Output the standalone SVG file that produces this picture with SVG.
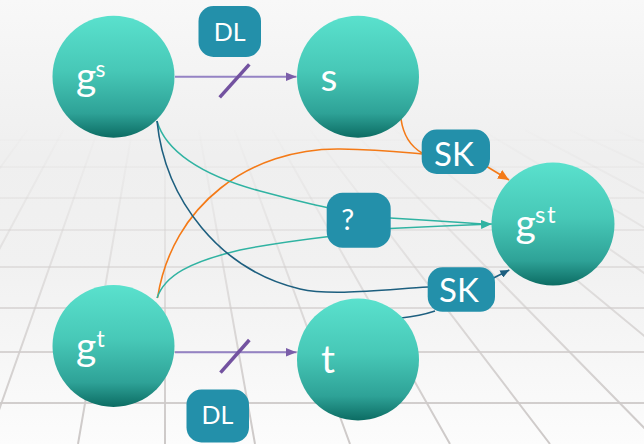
<svg xmlns="http://www.w3.org/2000/svg" width="644" height="444" viewBox="0 0 644 444">
<defs>
<linearGradient id="bg" x1="0" y1="0" x2="0" y2="444" gradientUnits="userSpaceOnUse">
<stop offset="0" stop-color="#F8F8F8"/>
<stop offset="0.35" stop-color="#EFEFEF"/>
<stop offset="0.6" stop-color="#F1F1F1"/>
<stop offset="1" stop-color="#FCFCFC"/>
</linearGradient>
<linearGradient id="gridc" x1="0" y1="120" x2="0" y2="444" gradientUnits="userSpaceOnUse">
<stop offset="0" stop-color="#D0CCCB" stop-opacity="0"/>
<stop offset="0.3" stop-color="#D0CCCB" stop-opacity="0.3"/>
<stop offset="0.7" stop-color="#D0CCCB" stop-opacity="0.8"/>
<stop offset="1" stop-color="#CDC9C8" stop-opacity="1"/>
</linearGradient>
<linearGradient id="nodefill" x1="0" y1="0" x2="0" y2="1">
<stop offset="0" stop-color="#5AE1CD"/>
<stop offset="0.45" stop-color="#47C8B7"/>
<stop offset="0.8" stop-color="#2EA297"/>
<stop offset="1" stop-color="#0C6C63"/>
</linearGradient>
<marker id="aPurple" markerUnits="userSpaceOnUse" markerWidth="11" markerHeight="9" refX="11" refY="4.5" orient="auto"><path d="M0,0 L11,4.5 L0,9 Z" fill="#7B5EA9"/></marker>
<marker id="aOrange" markerUnits="userSpaceOnUse" markerWidth="11" markerHeight="10" refX="11" refY="5" orient="auto"><path d="M0,0 L11,5 L0,10 Z" fill="#F47A17"/></marker>
<marker id="aTeal" markerUnits="userSpaceOnUse" markerWidth="11" markerHeight="9" refX="11" refY="4.5" orient="auto"><path d="M0,0 L11,4.5 L0,9 Z" fill="#30B3A2"/></marker>
<marker id="aNavy" markerUnits="userSpaceOnUse" markerWidth="9" markerHeight="8" refX="9" refY="4" orient="auto"><path d="M0,0 L9,4 L0,8 Z" fill="#1D5F7F"/></marker>
<style>
.grid{stroke:url(#gridc);stroke-width:2;fill:none}
.node{fill:url(#nodefill)}
.nt{font-family:Lato,"Open Sans","Liberation Sans",sans-serif;fill:#FFFFFF}
.box{fill:#2390AA}
.bt{font-family:Lato,"Open Sans","Liberation Sans",sans-serif;fill:#FFFFFF;text-anchor:middle}
.purple{stroke:#9583C4;stroke-width:2;fill:none}
.slash{stroke:#7352A0;stroke-width:3.5;fill:none}
.orange{stroke:#F47A17;stroke-width:1.6;fill:none}
.teal{stroke:#30B3A2;stroke-width:1.5;fill:none}
.navy{stroke:#1D5F7F;stroke-width:1.6;fill:none}
</style>
</defs>
<rect x="0" y="0" width="644" height="444" fill="url(#bg)"/>
<g id="floor-grid">
<path class="grid" d="M0,140 H644 M0,167 H644 M0,198 H644 M0,230 H644 M0,267 H644 M0,308 H644 M0,352 H644 M0,403 H644"/>
<path class="grid" d="M27.4,130 L-200,444 M63.2,130 L-105,444 M97.9,130 L-13,444 M132.2,130 L78,444 M165,130 L165,444 M198.9,130 L255,444 M234.7,130 L350,444 M272.4,130 L450,444 M310.1,130 L550,444 M351.6,130 L660,444 M395,130 L775,444 M438.3,130 L890,444 M481.7,130 L1005,444 M525,130 L1120,444 M570,130 L1240,444 M615,130 L1360,444"/>
</g>
<g id="connectors">
<line class="purple" x1="175" y1="76.7" x2="296.5" y2="76.7" marker-end="url(#aPurple)"/>
<line class="slash" x1="219.7" y1="97.3" x2="249.3" y2="64.3"/>
<line class="purple" x1="175" y1="352.3" x2="296.5" y2="352.3" marker-end="url(#aPurple)"/>
<line class="slash" x1="220.5" y1="372.7" x2="249.3" y2="340"/>
<path class="orange" d="M401,119 C403,133 410,146 422,153"/>
<path class="orange" d="M157.5,298 C172,205 250,148 340,149 C380,149.5 400,152 422,154"/>
<path class="orange" d="M486,166 L509,180" marker-end="url(#aOrange)"/>
<path class="teal" d="M157,121 C165,150 200,175 260,191 C290,199 310,204 329,208"/>
<path class="teal" d="M157,298 C165,275 190,262 240,250 C270,244 300,240 329,236.5"/>
<path class="teal" d="M390,218 Q440,221 483,224"/>
<path class="teal" d="M390,228.5 Q440,226 492,224" marker-end="url(#aTeal)"/>
<path class="navy" d="M157,121 C165,200 220,270 300,289 C330,296 380,290 428,287"/>
<path class="navy" d="M401,318 Q420,316 435,311"/>
<path class="navy" d="M493,278.3 L509.3,270" marker-end="url(#aNavy)"/>
</g>
<g id="node-gs">
<circle class="node" cx="113.5" cy="76.7" r="61"/>
<text class="nt" x="76" y="90" font-size="39">g</text>
<text class="nt" x="95.5" y="77.3" font-size="23">s</text>
</g>
<g id="node-s">
<circle class="node" cx="358" cy="76.7" r="61"/>
<text class="nt" x="320.5" y="90.7" font-size="39">s</text>
</g>
<g id="node-gst">
<circle class="node" cx="553" cy="224" r="61.5"/>
<text class="nt" x="515.5" y="237" font-size="39">g</text>
<text class="nt" x="535" y="223.3" font-size="24" letter-spacing="1.5">st</text>
</g>
<g id="node-gt">
<circle class="node" cx="113.5" cy="346" r="61"/>
<text class="nt" x="76" y="360" font-size="39">g</text>
<text class="nt" x="96.5" y="346.7" font-size="23">t</text>
</g>
<g id="node-t">
<circle class="node" cx="358" cy="359.5" r="61"/>
<text class="nt" x="321" y="372.7" font-size="39">t</text>
</g>
<g id="label-dl-top">
<rect class="box" x="198.5" y="6" width="62.5" height="51" rx="15"/>
<text class="bt" x="229.7" y="40.7" font-size="25">DL</text>
</g>
<g id="label-dl-bottom">
<rect class="box" x="186.5" y="389.5" width="62.5" height="53" rx="15"/>
<text class="bt" x="217.5" y="424" font-size="25">DL</text>
</g>
<g id="label-sk-top">
<rect class="box" x="421.7" y="129.5" width="68.3" height="44.5" rx="15"/>
<text class="bt" x="454" y="165.5" font-size="33">SK</text>
</g>
<g id="label-q">
<rect class="box" x="326.7" y="192.7" width="64" height="55" rx="16"/>
<text class="bt" x="347.7" y="230" font-size="29">?</text>
</g>
<g id="label-sk-bottom">
<rect class="box" x="427.7" y="267.3" width="67.3" height="44.5" rx="15"/>
<text class="bt" x="459" y="302" font-size="33">SK</text>
</g>
</svg>
